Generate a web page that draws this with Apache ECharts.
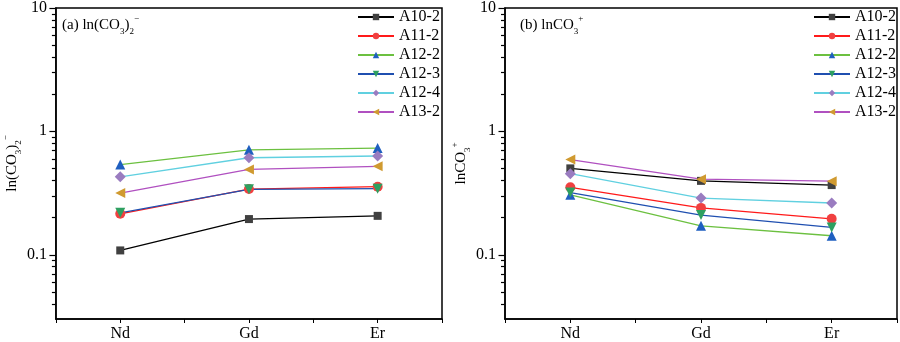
<!DOCTYPE html>
<html><head><meta charset="utf-8">
<script src="https://cdn.jsdelivr.net/npm/echarts@6/dist/echarts.min.js"></script>
<style>html,body{margin:0;padding:0;background:#fff}#c{width:900px;height:342px}</style>
</head><body><div id="c"></div>
<script>
const categories = ['Nd', 'Gd', 'Er'];
const seriesNames = ['A10-2', 'A11-2', 'A12-2', 'A12-3', 'A12-4', 'A13-2'];
// panel (a) ln(CO3)2-
const a_A10_2 = [0.108, 0.194, 0.206];
const a_A11_2 = [0.214, 0.340, 0.355];
const a_A12_2 = [0.537, 0.707, 0.730];
const a_A12_3 = [0.218, 0.338, 0.342];
const a_A12_4 = [0.427, 0.610, 0.630];
const a_A13_2 = [0.315, 0.490, 0.520];
// panel (b) lnCO3+
const b_A10_2 = [0.500, 0.396, 0.366];
const b_A11_2 = [0.351, 0.239, 0.195];
const b_A12_2 = [0.305, 0.171, 0.142];
const b_A12_3 = [0.318, 0.209, 0.166];
const b_A12_4 = [0.453, 0.287, 0.262];
const b_A13_2 = [0.589, 0.409, 0.394];
const yTickLabels = [0.1, 1, 10];
const yMinorTicks = [0.04,0.05,0.06,0.07,0.08,0.09,0.2,0.3,0.4,0.5,0.6,0.7,0.8,0.9,2,3,4,5,6,7,8,9];

const panelA = [a_A10_2, a_A11_2, a_A12_2, a_A12_3, a_A12_4, a_A13_2];
const panelB = [b_A10_2, b_A11_2, b_A12_2, b_A12_3, b_A12_4, b_A13_2];

const styles = [
  {line:'#000000', mark:'#404040', symbol:'rect', size:8},
  {line:'#ff1a1a', mark:'#f04040', symbol:'circle', size:10},
  {line:'#6cc040', mark:'#1f5fc0', symbol:'triangle', size:10},
  {line:'#1f4fb0', mark:'#2ea060', symbol:'triangle', rotate:180, size:10},
  {line:'#60d0e0', mark:'#9a7cc0', symbol:'diamond', size:11},
  {line:'#b050c0', mark:'#d09a30', symbol:'triangle', rotate:90, size:10}
];
const FONT = 'Liberation Serif';

const chart = echarts.init(document.getElementById('c'));

const richStyles = {
  n:{fontFamily:FONT, fontSize:15, fontWeight:'normal', color:'#000'},
  sub:{fontFamily:FONT, fontSize:9, fontWeight:'normal', color:'#000', verticalAlign:'bottom', lineHeight:22},
  sup:{fontFamily:FONT, fontSize:9, fontWeight:'normal', color:'#000', verticalAlign:'top', lineHeight:22}
};

function xAxisDef(gi) {
  return {
    type:'value', gridIndex:gi, min:0.5, max:3.5, interval:0.5,
    axisLine:{show:true, lineStyle:{color:'#000', width:1.5}},
    axisTick:{show:true, length:4, lineStyle:{color:'#000'}},
    splitLine:{show:false},
    axisLabel:{fontFamily:FONT, fontSize:16, color:'#000', margin:7,
      formatter: v => (Number.isInteger(v) ? categories[v-1] : '')}
  };
}
function yAxisDef(gi, nameRich) {
  return {
    type:'log', logBase:10, gridIndex:gi, min:0.03, max:10,
    axisLine:{show:true, lineStyle:{color:'#000', width:1.5}},
    axisTick:{show:false},
    splitLine:{show:false},
    axisLabel:{fontFamily:FONT, fontSize:16, color:'#000', margin:9,
      formatter: v => {
        for (const t of yTickLabels) if (Math.abs(v - t) / t < 1e-6) return String(t);
        return '';
      }},
    name: nameRich, nameLocation:'middle', nameGap:24, nameRotate:90,
    nameTextStyle:{fontFamily:FONT, fontSize:15, color:'#000', rich:richStyles}
  };
}

function tickSeries(gi, values, len) {
  return {
    type:'custom', xAxisIndex:gi, yAxisIndex:gi, silent:true, clip:false, z:10,
    data: values.map(v => [0.5, v]),
    renderItem: (params, api) => {
      const p = api.coord([api.value(0), api.value(1)]);
      const y = Math.round(p[1]) + 0.5;
      return {type:'line', z2:100, shape:{x1:p[0] - 0.5, y1:y, x2:p[0] - 0.5 - len, y2:y},
        style:{stroke:'#000', lineWidth:1.2}};
    }
  };
}

const series = [];
[panelA, panelB].forEach((panel, gi) => {
  panel.forEach((vals, i) => {
    const s = styles[i];
    series.push({
      name: seriesNames[i], type:'line', xAxisIndex:gi, yAxisIndex:gi,
      data: vals.map((v, k) => [k + 1, v]),
      symbol: s.symbol, symbolSize: s.size, symbolRotate: s.rotate || 0, showSymbol:true,
      lineStyle:{color:s.line, width:1.3},
      itemStyle:{color:s.mark},
      emphasis:{disabled:true}, z:3
    });
  });
});
[0, 1].forEach(gi => {
  series.push(tickSeries(gi, yTickLabels, 6));
  series.push(tickSeries(gi, yMinorTicks, 3.5));
});

function legendDef(left) {
  return {
    show:true, orient:'vertical', left:left, top:9, padding:0,
    data: seriesNames, itemWidth:36, itemHeight:8, itemGap:3,
    formatter: '{t|{name}}',
    textStyle:{fontFamily:FONT, fontSize:16, color:'#000',
      rich:{t:{fontFamily:FONT, fontSize:16, color:'#000', fontWeight:'normal'}}},
    selectedMode:false
  };
}

chart.setOption({
  animation:false,
  backgroundColor:'#fff',
  textStyle:{fontFamily:FONT},
  title:[
    {text:'{n|(a) ln(CO}{sub|3}{n|)}{sub|2}{sup|−}', left:62, top:14, padding:0,
      textStyle:{fontWeight:'normal', rich:richStyles}},
    {text:'{n|(b) lnCO}{sub|3}{sup|+}', left:520, top:14, padding:0,
      textStyle:{fontWeight:'normal', rich:richStyles}}
  ],
  grid:[
    {left:46, top:6, width:396, height:317, show:true, borderColor:'#000', borderWidth:1.5, backgroundColor:'transparent'},
    {left:505, top:6, width:392, height:317, show:true, borderColor:'#000', borderWidth:1.5, backgroundColor:'transparent'}
  ],
  xAxis:[xAxisDef(0), xAxisDef(1)],
  yAxis:[
    yAxisDef(0, '{n|ln(CO}{sub|3}{n|)}{sub|2}{sup|−}'),
    yAxisDef(1, '{n|lnCO}{sub|3}{sup|+}')
  ],
  legend:[legendDef(357), legendDef(813)],
  series: series
});
</script></body></html>
